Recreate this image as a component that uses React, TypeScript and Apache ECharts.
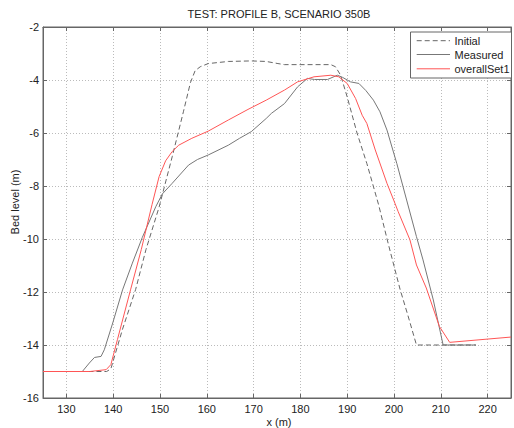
import React, { useEffect, useRef } from "react";
import * as echarts from "echarts";

const titleText = "TEST: PROFILE B, SCENARIO 350B";
const xLabel = "x (m)";
const yLabel = "Bed level (m)";
const seriesNames = ["Initial", "Measured", "overallSet1"];

const initialX = [133, 138.6, 139.5, 142, 144.8, 147, 149.8, 152.6, 155, 156.5, 157.5, 158.6, 160.3, 164.6, 169.5, 172.7, 175.2, 176.6, 186.5, 187.5, 188.6, 190, 192.1, 194.2, 196.7, 198.8, 201.3, 203, 204.8, 217.5];
const initialY = [-15, -15, -14.9, -13.4, -11.9, -10.4, -8.8, -6.9, -5.2, -4.1, -3.65, -3.5, -3.38, -3.3, -3.28, -3.3, -3.38, -3.42, -3.42, -3.5, -3.82, -4.64, -6.0, -7.15, -8.7, -10.2, -11.9, -12.9, -14, -14];

const measuredX = [133.4, 134.9, 136, 137.4, 138.1, 139.9, 142, 144.1, 146.2, 149.1, 150.5, 152.6, 156.1, 158, 160.3, 164.6, 167, 169.5, 172.7, 173.8, 176.6, 179.4, 181.5, 183, 185.8, 187.9, 189, 190.7, 192.5, 194, 195.6, 197, 198.5, 200.6, 202.7, 204.8, 206.2, 208.4, 210.5, 217.5];
const measuredY = [-15, -14.68, -14.47, -14.43, -14.18, -13.17, -11.92, -10.91, -9.95, -8.78, -8.3, -7.9, -7.21, -7.0, -6.83, -6.46, -6.2, -5.95, -5.45, -5.26, -4.89, -4.26, -3.94, -3.98, -3.98, -3.82, -3.9, -4.07, -4.13, -4.4, -4.76, -5.2, -5.89, -7.15, -8.53, -9.91, -10.79, -12.3, -14, -14];

const modelX = [125, 135, 138.5, 139.5, 140.9, 143.7, 146, 148.3, 149.8, 151.2, 152.6, 154, 156.8, 160.3, 164.6, 168.8, 172.7, 176.6, 179.4, 182.9, 186.5, 188.2, 190, 191.8, 193.2, 194.2, 196, 198.5, 200.2, 200.9, 203.4, 204.8, 206.9, 209.7, 211.9, 225];
const modelY = [-15, -15, -14.93, -14.74, -13.8, -11.92, -10.4, -8.7, -7.65, -7.05, -6.7, -6.46, -6.2, -5.93, -5.51, -5.11, -4.76, -4.38, -4.07, -3.88, -3.82, -3.88, -4.13, -4.7, -5.33, -5.64, -6.64, -7.9, -8.65, -8.97, -10.03, -10.98, -11.85, -13.3, -13.9, -13.7];

const zip = (xs: number[], ys: number[]) => xs.map((x, i) => [x, ys[i]]);

const FONT = "Liberation Sans, Arial, sans-serif";
const TEXT = "#222";
const FRAME = "#666";
const COLORS = ["#666", "#777", "#ff5555"];
const DASHES: (number[] | "solid")[] = [[5, 3], "solid", "solid"];

export default function App() {
  const ref = useRef<HTMLDivElement>(null);
  useEffect(() => {
    if (!ref.current) return;
    const chart = echarts.init(ref.current, undefined, { renderer: "svg" });
    const axisCommon = {
      type: "value" as const,
      axisLine: { show: true, lineStyle: { color: FRAME, width: 1 } },
      axisTick: { show: true, inside: true, length: 4, lineStyle: { color: FRAME } },
    };
    const legendX = 410;
    const legendY = 31.5;
    const legendRows = [40.7, 54.5, 68.8];
    const legendGraphics: any[] = [
      {
        type: "rect",
        shape: { x: legendX + 0.5, y: legendY + 0.5, width: 101, height: 46 },
        style: { fill: "#fff", stroke: FRAME, lineWidth: 1 },
        z: 100,
      },
    ];
    seriesNames.forEach((name, i) => {
      legendGraphics.push({
        type: "line",
        shape: { x1: 416.7, y1: legendRows[i], x2: 450, y2: legendRows[i] },
        style: { stroke: COLORS[i], lineWidth: 1, lineDash: DASHES[i] === "solid" ? null : DASHES[i] },
        z: 101,
      });
      legendGraphics.push({
        type: "text",
        x: 454.5,
        y: legendRows[i],
        style: { text: name, fill: TEXT, font: `11px ${FONT}`, textAlign: "left", textVerticalAlign: "middle" },
        z: 101,
      });
    });
    chart.setOption({
      animation: false,
      textStyle: { fontFamily: FONT },
      grid: { left: 43, right: -1, top: 27, bottom: 30, show: true, borderColor: FRAME, borderWidth: 1, backgroundColor: "#fff" },
      xAxis: [
        {
          ...axisCommon,
          position: "bottom",
          min: 125,
          max: 225,
          splitNumber: 10,
          axisLabel: {
            color: TEXT,
            fontSize: 11,
            fontFamily: FONT,
            margin: 5,
            formatter: (v: number) => (v % 10 === 0 ? String(v) : ""),
          },
          splitLine: { show: true, lineStyle: { color: "#bbb", type: [1, 2], width: 1 } },
        },
        {
          ...axisCommon,
          position: "top",
          min: 125,
          max: 225,
          splitNumber: 10,
          axisLabel: { show: false },
          splitLine: { show: false },
        },
      ],
      yAxis: [
        {
          ...axisCommon,
          position: "left",
          min: -16,
          max: -2,
          interval: 2,
          axisLabel: { color: TEXT, fontSize: 11, fontFamily: FONT, margin: 4 },
          splitLine: { show: true, lineStyle: { color: "#bbb", type: [1, 2], width: 1 } },
        },
        {
          ...axisCommon,
          position: "right",
          min: -16,
          max: -2,
          interval: 2,
          axisLabel: { show: false },
          splitLine: { show: false },
        },
      ],
      graphic: [
        {
          type: "text",
          x: 279,
          y: 14,
          style: { text: titleText, fill: TEXT, font: `11px ${FONT}`, textAlign: "center", textVerticalAlign: "middle" },
        },
        {
          type: "text",
          x: 279,
          y: 422,
          style: { text: xLabel, fill: TEXT, font: `11px ${FONT}`, textAlign: "center", textVerticalAlign: "middle" },
        },
        {
          type: "text",
          x: 15,
          y: 202,
          rotation: Math.PI / 2,
          style: { text: yLabel, fill: TEXT, font: `11px ${FONT}`, textAlign: "center", textVerticalAlign: "middle" },
        },
        ...legendGraphics,
      ],
      series: [
        {
          name: seriesNames[0],
          type: "line",
          data: zip(initialX, initialY),
          symbol: "none",
          lineStyle: { color: COLORS[0], width: 1, type: DASHES[0] },
          itemStyle: { color: COLORS[0] },
          z: 2,
        },
        {
          name: seriesNames[1],
          type: "line",
          data: zip(measuredX, measuredY),
          symbol: "none",
          lineStyle: { color: COLORS[1], width: 1 },
          itemStyle: { color: COLORS[1] },
          z: 3,
        },
        {
          name: seriesNames[2],
          type: "line",
          data: zip(modelX, modelY),
          symbol: "none",
          lineStyle: { color: COLORS[2], width: 1 },
          itemStyle: { color: COLORS[2] },
          z: 4,
        },
      ],
    });
    return () => chart.dispose();
  }, []);
  return <div ref={ref} style={{ position: "fixed", left: 0, top: 0, width: 514, height: 428, background: "#fff" }} />;
}
